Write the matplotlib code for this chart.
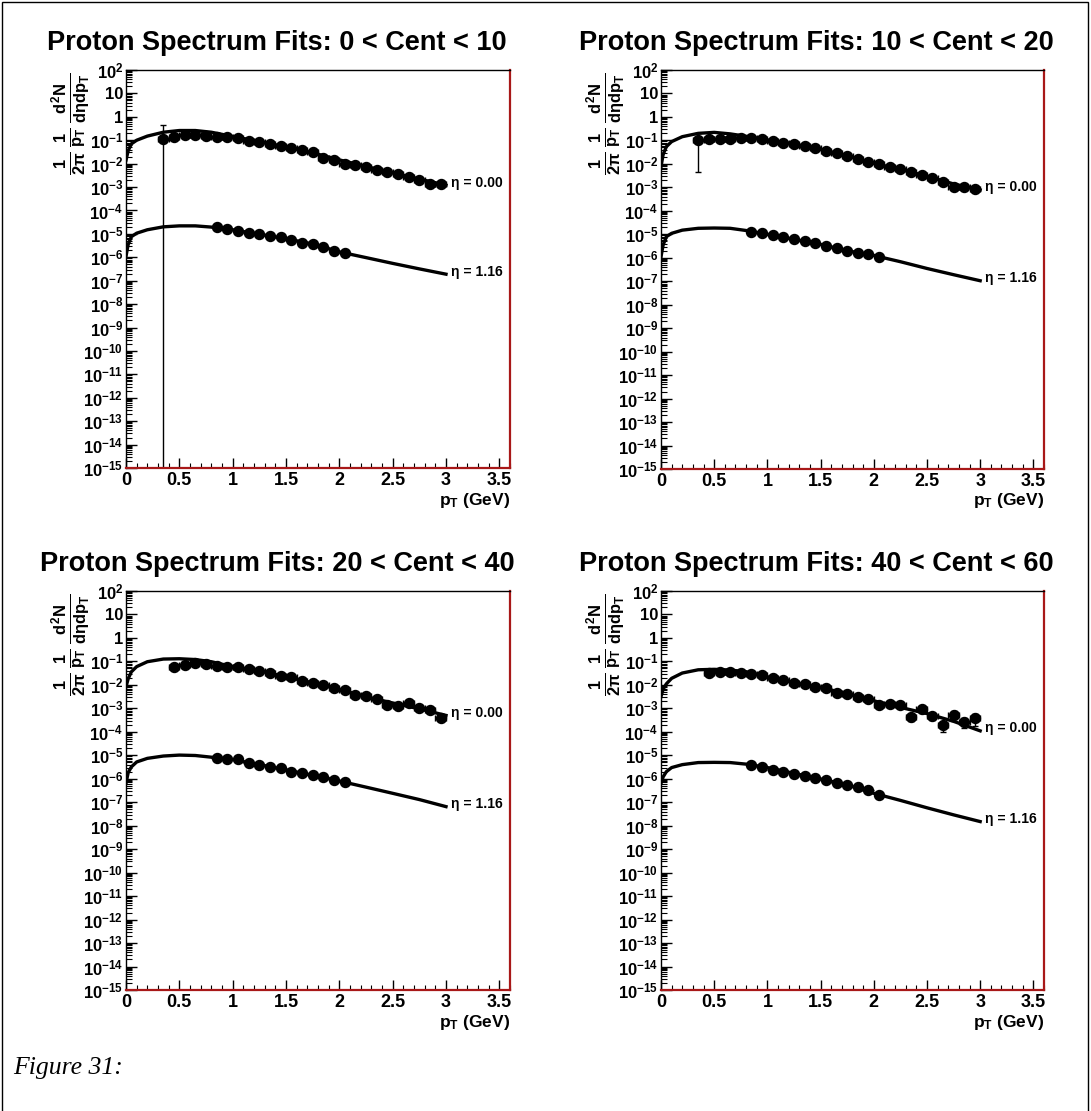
import matplotlib
matplotlib.use('Agg')
import matplotlib.pyplot as plt
from matplotlib.ticker import LogLocator, MultipleLocator, NullFormatter
from matplotlib.patches import Rectangle

plt.rcParams['font.family'] = 'Liberation Sans'
plt.rcParams['font.weight'] = 'bold'
plt.rcParams['mathtext.fontset'] = 'custom'
plt.rcParams['mathtext.rm'] = 'Liberation Sans:bold'
plt.rcParams['mathtext.it'] = 'Liberation Sans:bold'
plt.rcParams['mathtext.bf'] = 'Liberation Sans:bold'
plt.rcParams['mathtext.sf'] = 'Liberation Sans:bold'

# ---- data ----
titles = ['Proton Spectrum Fits: 0 < Cent < 10', 'Proton Spectrum Fits: 10 < Cent < 20',
          'Proton Spectrum Fits: 20 < Cent < 40', 'Proton Spectrum Fits: 40 < Cent < 60']
eta_labels = ['\u03b7 = 0.00', '\u03b7 = 1.16']

# pT bin centres (GeV)
pt_from035 = [0.35, 0.45, 0.55, 0.65, 0.75, 0.85, 0.95, 1.05, 1.15, 1.25, 1.35, 1.45, 1.55, 1.65,
              1.75, 1.85, 1.95, 2.05, 2.15, 2.25, 2.35, 2.45, 2.55, 2.65, 2.75, 2.85, 2.95]
pt_from045 = pt_from035[1:]
pt_fwd = [0.85, 0.95, 1.05, 1.15, 1.25, 1.35, 1.45, 1.55, 1.65, 1.75, 1.85, 1.95, 2.05]
pt_fit = [0.0, 0.02, 0.05, 0.1, 0.2, 0.35, 0.5, 0.65, 0.8, 1.0, 1.25, 1.5, 1.75, 2.0,
          2.25, 2.5, 2.75, 3.0]

# eta = 0.00 data
mid_c0 = [0.11, 0.14, 0.166, 0.166, 0.15, 0.14, 0.14, 0.12, 0.095, 0.087, 0.069, 0.056, 0.045, 0.038,
          0.032, 0.017, 0.0144, 0.0096, 0.0087, 0.0069, 0.0053, 0.0045, 0.0036, 0.0026, 0.0021,
          0.00135, 0.00135]
mid_c10 = [0.104, 0.114, 0.114, 0.114, 0.123, 0.123, 0.112, 0.098, 0.080, 0.070, 0.058, 0.046, 0.036,
           0.028, 0.022, 0.0156, 0.0124, 0.0100, 0.0077, 0.0059, 0.0043, 0.0034, 0.0025, 0.0017,
           0.00107, 0.00107, 0.00083]
mid_c20 = [0.060, 0.070, 0.083, 0.078, 0.063, 0.060, 0.056, 0.046, 0.040, 0.033, 0.024, 0.021, 0.015,
           0.0123, 0.0098, 0.0071, 0.0060, 0.0037, 0.0034, 0.0024, 0.00138, 0.00126, 0.00163,
           0.00100, 0.00085, 0.00037]
mid_c40 = [0.033, 0.036, 0.036, 0.033, 0.029, 0.026, 0.019, 0.016, 0.0123, 0.011, 0.0083, 0.0071,
           0.0044, 0.0041, 0.0030, 0.0024, 0.00138, 0.00148, 0.00138, 0.00042, 0.00091, 0.00048,
           0.000195, 0.00052, 0.00027, 0.00038]

# eta = 0.00 errors (low, high); most are hidden under the markers
mid_c0_lo = [0.11] + [0.0] * 26
mid_c0_hi = [0.35] + [0.0] * 26
mid_c10_lo = [0.0996] + [0.0] * 26
mid_c10_hi = [0.0996] + [0.0] * 26
mid_c20_lo = [0.0] * 26
mid_c20_hi = [0.0] * 26
mid_c40_lo = [0.009] + [0.0] * 17 + [0.0003, 0.00012, 0.0003, 0.00015, 0.00010, 0.00022, 0.00012, 0.0002]
mid_c40_hi = [0.009] + [0.0] * 17 + [0.0003, 0.00012, 0.0003, 0.00015, 0.00008, 0.00022, 0.00012, 0.0002]

# eta = 1.16 data
fwd_c0 = [1.9e-5, 1.6e-5, 1.3e-5, 1.1e-5, 9.5e-6, 8.1e-6, 7.1e-6, 5.5e-6, 4.2e-6, 3.7e-6, 2.8e-6,
          1.9e-6, 1.5e-6]
fwd_c10 = [1.3e-5, 1.1e-5, 9.3e-6, 7.4e-6, 6.1e-6, 5.4e-6, 4.2e-6, 3.2e-6, 2.5e-6, 2.0e-6, 1.65e-6,
           1.45e-6, 1.1e-6]
fwd_c20 = [7.4e-6, 6.7e-6, 6.7e-6, 4.9e-6, 3.9e-6, 3.3e-6, 3.0e-6, 2.0e-6, 1.8e-6, 1.45e-6, 1.15e-6,
           8.9e-7, 7.5e-7]
fwd_c40 = [3.9e-6, 3.3e-6, 2.4e-6, 2.0e-6, 1.6e-6, 1.3e-6, 1.05e-6, 8.9e-7, 6.8e-7, 5.4e-7, 4.6e-7,
           3.3e-7, 2.0e-7]

# fit curves sampled at pt_fit
fit_mid_c0 = [0.014, 0.035, 0.07, 0.10, 0.15, 0.22, 0.26, 0.26, 0.22, 0.145, 0.088, 0.052, 0.029,
              0.0145, 0.0076, 0.0041, 0.0022, 0.0012]
fit_mid_c10 = [0.0076, 0.025, 0.054, 0.089, 0.144, 0.20, 0.22, 0.19, 0.15, 0.105, 0.070, 0.042, 0.022,
               0.0105, 0.0058, 0.0030, 0.0014, 0.00078]
fit_mid_c20 = [0.0083, 0.018, 0.036, 0.060, 0.097, 0.126, 0.13, 0.12, 0.097, 0.060, 0.040, 0.022,
               0.0123, 0.0065, 0.0031, 0.0017, 0.00095, 0.0005]
fit_mid_c40 = [0.0032, 0.0065, 0.011, 0.019, 0.032, 0.044, 0.046, 0.043, 0.036, 0.022, 0.0125, 0.0077,
               0.0042, 0.0021, 0.0011, 0.0006, 0.00028, 0.00011]
fit_fwd_c0 = [1.1e-6, 3.5e-6, 7.6e-6, 1.07e-5, 1.5e-5, 2.0e-5, 2.2e-5, 2.2e-5, 1.95e-5, 1.5e-5, 9.6e-6,
              6.2e-6, 3.7e-6, 1.7e-6, 9.7e-7, 5.5e-7, 3.2e-7, 1.9e-7]
fit_fwd_c10 = [1.1e-6, 3.5e-6, 7.9e-6, 1.1e-5, 1.5e-5, 1.8e-5, 1.85e-5, 1.8e-5, 1.45e-5, 1.0e-5, 6.1e-6,
               3.7e-6, 2.0e-6, 1.25e-6, 6.8e-7, 3.5e-7, 1.9e-7, 1.05e-7]
fit_fwd_c20 = [6.4e-7, 1.8e-6, 3.2e-6, 5.2e-6, 7.4e-6, 9.3e-6, 1.02e-5, 9.8e-6, 8.3e-6, 6.6e-6, 4.0e-6,
               2.4e-6, 1.4e-6, 8.0e-7, 4.4e-7, 2.4e-7, 1.3e-7, 6.5e-8]
fit_fwd_c40 = [6.4e-7, 1.2e-6, 2.0e-6, 3.0e-6, 4.0e-6, 4.9e-6, 5.0e-6, 4.9e-6, 4.2e-6, 3.0e-6, 1.7e-6,
               9.7e-7, 5.5e-7, 2.4e-7, 1.2e-7, 5.8e-8, 2.9e-8, 1.5e-8]

ytick_vals = [1e-15, 1e-14, 1e-13, 1e-12, 1e-11, 1e-10, 1e-9, 1e-8, 1e-7, 1e-6, 1e-5, 1e-4, 1e-3,
              1e-2, 1e-1, 1, 10, 100]
ytick_text = ['$10^{-15}$', '$10^{-14}$', '$10^{-13}$', '$10^{-12}$', '$10^{-11}$', '$10^{-10}$',
              '$10^{-9}$', '$10^{-8}$', '$10^{-7}$', '$10^{-6}$', '$10^{-5}$', '$10^{-4}$', '$10^{-3}$',
              '$10^{-2}$', '$10^{-1}$', '1', '10', '$10^{2}$']
xtick_vals = [0, 0.5, 1, 1.5, 2, 2.5, 3, 3.5]
xtick_text = ['0', '0.5', '1', '1.5', '2', '2.5', '3', '3.5']

panels = [
    (titles[0], pt_from035, mid_c0, mid_c0_lo, mid_c0_hi, fwd_c0, fit_mid_c0, fit_fwd_c0),
    (titles[1], pt_from035, mid_c10, mid_c10_lo, mid_c10_hi, fwd_c10, fit_mid_c10, fit_fwd_c10),
    (titles[2], pt_from045, mid_c20, mid_c20_lo, mid_c20_hi, fwd_c20, fit_mid_c20, fit_fwd_c20),
    (titles[3], pt_from045, mid_c40, mid_c40_lo, mid_c40_hi, fwd_c40, fit_mid_c40, fit_fwd_c40),
]

W, H = 1091, 1111
fig = plt.figure(figsize=(W / 100, H / 100), dpi=100)

# pixel boxes of the four frames: left, top, right, bottom
boxes = [(126, 70, 510, 468), (661, 70, 1044, 469), (126, 591, 510, 990), (661, 591, 1044, 990)]
title_pos = [(0.254, 43), (0.748, 43), (0.254, 564), (0.748, 564)]

ylab = r'$\frac{1}{2\pi}\,\frac{1}{p_{T}}\,\frac{d^{2}N}{d\eta dp_{T}}$'
frame_red = '#a81818'

for (title, pt_mid, mid, lo, hi, fwd, fit_mid, fit_fwd), (l, t, r, b), (tx, ty) in zip(panels, boxes, title_pos):
    ax = fig.add_axes([l / W, 1 - b / H, (r - l) / W, (b - t) / H])
    ax.set_yscale('log')

    ax.plot(pt_fit, fit_mid, color='black', lw=2.4)
    ax.plot(pt_fit, fit_fwd, color='black', lw=2.4)
    ax.errorbar(pt_mid, mid, yerr=[lo, hi], xerr=0.05, fmt='o', color='black', ms=7.2,
                elinewidth=1, capsize=2.5)
    ax.errorbar(pt_fwd, fwd, xerr=0.05, fmt='o', color='black', ms=7.2, elinewidth=1)

    ax.text(3.05, fit_mid[-1] * 1.3, eta_labels[0], fontsize=10, va='center', ha='left')
    ax.text(3.05, fit_fwd[-1] * 1.3, eta_labels[1], fontsize=10, va='center', ha='left')

    ax.set_xlim(0, 3.6)
    ax.set_ylim(1e-15, 1e2)
    ax.set_yticks(ytick_vals)
    ax.set_yticklabels(ytick_text, fontsize=12)
    ax.yaxis.set_minor_locator(LogLocator(base=10, subs=range(2, 10), numticks=100))
    ax.yaxis.set_minor_formatter(NullFormatter())
    ax.set_xticks(xtick_vals)
    ax.set_xticklabels(xtick_text, fontsize=13)
    ax.xaxis.set_minor_locator(MultipleLocator(0.1))

    ax.tick_params(which='both', direction='in', top=False, right=False, color='black')
    ax.tick_params(axis='y', which='major', length=8, width=1, pad=2)
    ax.tick_params(axis='y', which='minor', length=4, width=0.8)
    ax.tick_params(axis='x', which='major', length=7, width=1, pad=3)
    ax.tick_params(axis='x', which='minor', length=3.5, width=0.8)

    for side in ['right', 'bottom']:
        ax.spines[side].set_color(frame_red)
        ax.spines[side].set_linewidth(1.6)
    for side in ['left', 'top']:
        ax.spines[side].set_linewidth(1.0)

    ax.text(1.0, -32 / (b - t), r'p$_{T}$ (GeV)', transform=ax.transAxes, ha='right', va='center',
            fontsize=12.5)
    ax.text(-34 / (r - l), 1 - 3 / (b - t), ylab, transform=ax.transAxes, rotation=90,
            ha='right', va='top', fontsize=17)

    fig.text(tx, 1 - ty / H, title, ha='center', va='center', fontsize=19.5)

fig.text(13 / W, 1 - 1074 / H, 'Figure 31:', family='Liberation Serif', style='italic',
         weight='normal', fontsize=18.5, va='baseline', ha='left')

fig.patches.append(Rectangle((0.0015, -0.1), 0.996, 1.0985, transform=fig.transFigure,
                             fill=False, edgecolor='black', lw=1))

fig.savefig('out.png', dpi=100)
